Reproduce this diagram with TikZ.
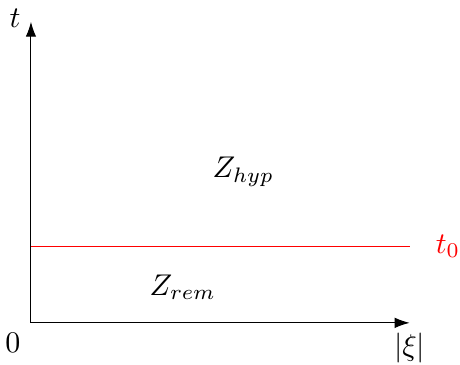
\documentclass[tikz,border=0pt]{standalone}
\usepackage{amsmath}
\usepackage{xcolor}
\usetikzlibrary{positioning, calc, arrows.meta}
\tikzset{
  axis/.style={-{Latex[length=5pt,width=3.5pt]}, line width=0.35pt, black},
  threshold/.style={line width=0.35pt, red},
  region/.style={inner sep=2pt, font=\normalsize},
}

\begin{document}
\begin{tikzpicture}
\useasboundingbox (-0.363,-0.492) rectangle (5.03,3.785);

%% ── axes ──────────────────────────────────────────────
\coordinate (origin) at (0,0);
\coordinate (xiend) at (4.44,0);
\coordinate (tend) at (0,3.53);
\draw[axis] (origin) -- (xiend);
\draw[axis] (origin) -- (tend);
\node[below left] (zerolabel) at (origin) {$0$};
\node[below] (xilabel) at (xiend) {$|\xi|$};
\node[left, yshift=1pt] (tlabel) at (tend) {$t$};

%% ── threshold t_0 ─────────────────────────────────────
\coordinate (tzerostart) at (0,0.90);
\coordinate (tzeroend) at (4.44,0.90);
\draw[threshold] (tzerostart) -- (tzeroend);
\node[right=8.5pt of tzeroend, text=red, inner sep=0pt] (tzerolabel) {$t_0$};

%% ── zones ─────────────────────────────────────────────
\node[region] (zhyp) at (2.49,1.77) {$Z_{hyp}$};
\node[region] (zrem) at (1.78,0.42) {$Z_{rem}$};

\end{tikzpicture}
\end{document}
